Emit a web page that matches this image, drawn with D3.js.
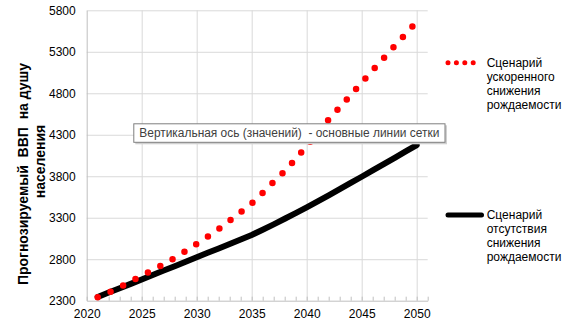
<!DOCTYPE html>
<html>
<head>
<meta charset="utf-8">
<script src="https://cdn.jsdelivr.net/npm/d3@7"></script>
<style>
  body { margin: 0; background: #fff; }
  text { font-family: "Liberation Sans", Arial, sans-serif; }
</style>
</head>
<body>
<div id="chart"></div>
<script>
const years = d3.range(2021, 2051);
// scenario of accelerated fertility decline
const fastDecline = [2342, 2398, 2460, 2533, 2601, 2669, 2740, 2815, 2898, 2985,
  3071, 3163, 3264, 3367, 3472, 3600, 3733, 3861, 4008, 4165,
  4325, 4484, 4630, 4780, 4928, 5078, 5224, 5372, 5516, 5660];
// scenario with no fertility decline
const noDecline = [2345, 2398, 2450, 2503, 2556, 2610, 2663, 2716, 2770, 2823,
  2877, 2930, 2984, 3038, 3092, 3155, 3220, 3288, 3356, 3425,
  3497, 3570, 3644, 3719, 3794, 3870, 3946, 4022, 4099, 4176];
const xTicks = [2020, 2025, 2030, 2035, 2040, 2045, 2050];
const yTicks = [2300, 2800, 3300, 3800, 4300, 4800, 5300, 5800];
const fastLabel = ['Сценарий', 'ускоренного', 'снижения', 'рождаемости'];
const noLabel = ['Сценарий', 'отсутствия', 'снижения', 'рождаемости'];
const yTitle = ['Прогнозируемый  ВВП  на душу', 'населения'];
const tipText = 'Вертикальная ось (значений)  - основные линии сетки';

const width = 570;
const height = 329;
const plotLeft = 86.7;
const plotRight = 427.7;
const plotTop = 10.3;
const plotBottom = 300.7;

const svg = d3.select('#chart')
  .append('svg')
  .attr('width', width)
  .attr('height', height);

const x = d3.scaleLinear().domain([2020, 2051]).range([plotLeft, plotRight]);
const y = d3.scaleLinear().domain([2300, 5800]).range([plotBottom, plotTop]);

/* GRID */
svg.append('g')
  .attr('transform', `translate(${plotLeft}, 0)`)
  .call(d3.axisLeft(y).tickValues(yTicks.slice(1)).tickFormat('').tickSize(-(plotRight - plotLeft)))
  .call(g => g.select('.domain').remove())
  .call(g => g.selectAll('line').attr('stroke', '#d9d9d9'));

svg.append('g')
  .attr('transform', `translate(0, ${plotBottom})`)
  .call(d3.axisBottom(x).tickValues(xTicks.slice(1)).tickFormat('').tickSize(-(plotBottom - plotTop)))
  .call(g => g.select('.domain').remove())
  .call(g => g.selectAll('line').attr('stroke', '#d9d9d9'));

/* AXES */
svg.append('g')
  .attr('transform', `translate(0, ${plotBottom})`)
  .call(d3.axisBottom(x).tickValues(d3.range(2020, 2052)).tickFormat('').tickSize(-4).tickSizeOuter(0))
  .call(g => g.select('.domain').attr('stroke', '#bfbfbf'))
  .call(g => g.selectAll('line').attr('stroke', '#bfbfbf'));

svg.append('g')
  .attr('transform', `translate(0, ${plotBottom})`)
  .call(d3.axisBottom(x).tickValues(xTicks).tickFormat(d3.format('d')).tickSize(0).tickPadding(9))
  .call(g => g.select('.domain').remove())
  .call(g => g.selectAll('text')
    .attr('font-size', 12)
    .attr('fill', '#000')
    .attr('font-family', '"Liberation Sans", Arial, sans-serif'));

svg.append('g')
  .attr('transform', `translate(${plotLeft}, 0)`)
  .call(d3.axisLeft(y).tickValues(yTicks).tickFormat(d3.format('d')).tickSize(0).tickPadding(11).tickSizeOuter(0))
  .call(g => g.select('.domain').attr('stroke', '#bfbfbf'))
  .call(g => g.selectAll('text')
    .attr('font-size', 12)
    .attr('fill', '#000')
    .attr('font-family', '"Liberation Sans", Arial, sans-serif'));

/* Y TITLE */
const titlePos = [{ cx: 22.7, cy: 174 }, { cx: 39.5, cy: 161.5 }];
yTitle.forEach((t, i) => {
  svg.append('text')
    .attr('transform', `translate(${titlePos[i].cx}, ${titlePos[i].cy}) rotate(-90)`)
    .attr('text-anchor', 'middle')
    .attr('dominant-baseline', 'central')
    .attr('font-size', 14)
    .attr('font-weight', 'bold')
    .style('white-space', 'pre')
    .text(t);
});

/* SERIES */
const line = d3.line()
  .x((d, i) => x(years[i]))
  .y(d => y(d));

svg.append('path')
  .datum(noDecline)
  .attr('d', line)
  .attr('fill', 'none')
  .attr('stroke', '#000')
  .attr('stroke-width', 6)
  .attr('stroke-linejoin', 'round')
  .attr('stroke-linecap', 'round');

svg.append('path')
  .datum(fastDecline)
  .attr('d', line)
  .attr('fill', 'none')
  .attr('stroke', '#ff0000')
  .attr('stroke-width', 6.5)
  .attr('stroke-linecap', 'round')
  .attr('stroke-dasharray', '0 14');

/* LEGEND */
const legend = [
  { labels: fastLabel, cy: 62.7, dotted: true },
  { labels: noLabel, cy: 215, dotted: false },
];
legend.forEach((item) => {
  const sample = svg.append('line')
    .attr('x1', 448)
    .attr('x2', 481.5)
    .attr('y1', item.cy)
    .attr('y2', item.cy)
    .attr('stroke-linecap', 'round');
  if (item.dotted) {
    sample.attr('stroke', '#ff0000').attr('stroke-width', 5).attr('stroke-dasharray', '0 8.4');
  } else {
    sample.attr('stroke', '#000').attr('stroke-width', 5);
  }
  item.labels.forEach((t, i) => {
    svg.append('text')
      .attr('x', 486.7)
      .attr('y', item.cy + i * 14 + 4.3)
      .attr('font-size', 12)
      .attr('fill', '#000')
      .text(t);
  });
});

/* TOOLTIP */
const tip = svg.append('g').attr('transform', 'translate(133.3, 123.3)');
tip.append('rect')
  .attr('x', 2).attr('y', 2)
  .attr('width', 311.7).attr('height', 19)
  .attr('fill', '#d0d0d0');
tip.append('rect')
  .attr('x', 0.5).attr('y', 0.5)
  .attr('width', 311.2).attr('height', 18.5)
  .attr('fill', '#fff')
  .attr('stroke', '#7f7f7f');
tip.append('text')
  .attr('x', 6)
  .attr('y', 14)
  .attr('font-size', 12)
  .attr('fill', '#404040')
  .attr('font-family', '"Open Sans", "Noto Sans", sans-serif')
  .attr('textLength', 300)
  .attr('lengthAdjust', 'spacingAndGlyphs')
  .style('white-space', 'pre')
  .text(tipText);
</script>
</body>
</html>
